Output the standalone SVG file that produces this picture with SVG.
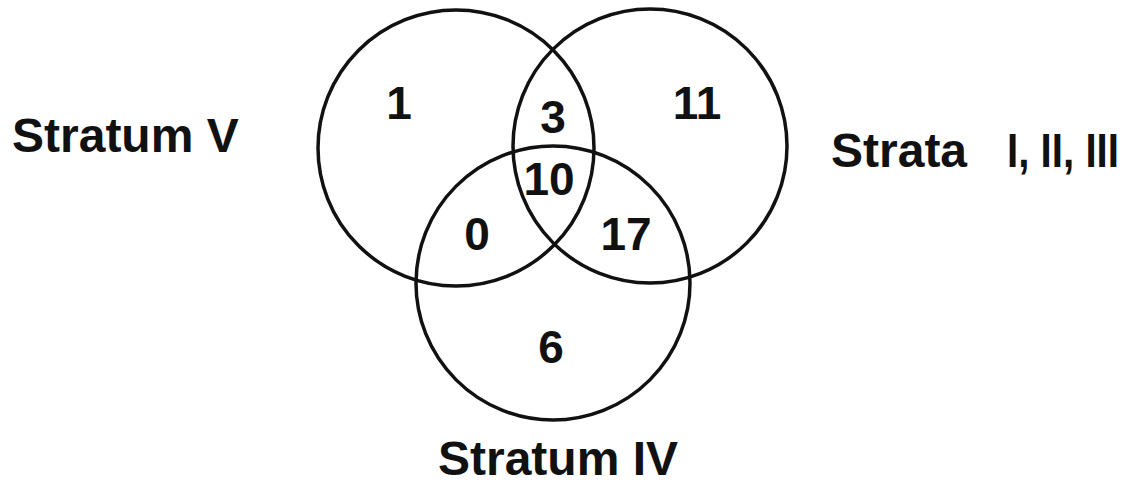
<svg xmlns="http://www.w3.org/2000/svg" width="1139" height="494" viewBox="0 0 1139 494">
<style>
.c{fill:none;stroke:#111;stroke-width:3.5}
.n{font-family:"Liberation Sans",Arial,sans-serif;font-weight:bold;font-size:46px;fill:#111;text-anchor:middle}
.l{font-family:"Liberation Sans",Arial,sans-serif;font-weight:bold;font-size:48px;fill:#111}
</style>
<rect width="1139" height="494" fill="#fff"/>
<g id="stratumV">
<circle class="c" cx="456" cy="148" r="138"/>
<text class="l" x="12" y="152">Stratum V</text>
</g>
<g id="strataI-III">
<circle class="c" cx="650" cy="146" r="137"/>
<text class="l" x="831" y="167">Strata</text>
<text class="l" x="1007" y="167" textLength="112" lengthAdjust="spacingAndGlyphs">I, II, III</text>
</g>
<g id="stratumIV">
<circle class="c" cx="553" cy="283" r="137"/>
<text class="l" x="558" y="475" text-anchor="middle">Stratum IV</text>
</g>
<g id="counts">
<text class="n" x="399" y="119">1</text>
<text class="n" x="553" y="133">3</text>
<text class="n" x="697" y="119">11</text>
<text class="n" x="549" y="195">10</text>
<text class="n" x="477" y="250">0</text>
<text class="n" x="626" y="250">17</text>
<text class="n" x="551" y="363">6</text>
</g>
<g id="connectors"></g>
</svg>
